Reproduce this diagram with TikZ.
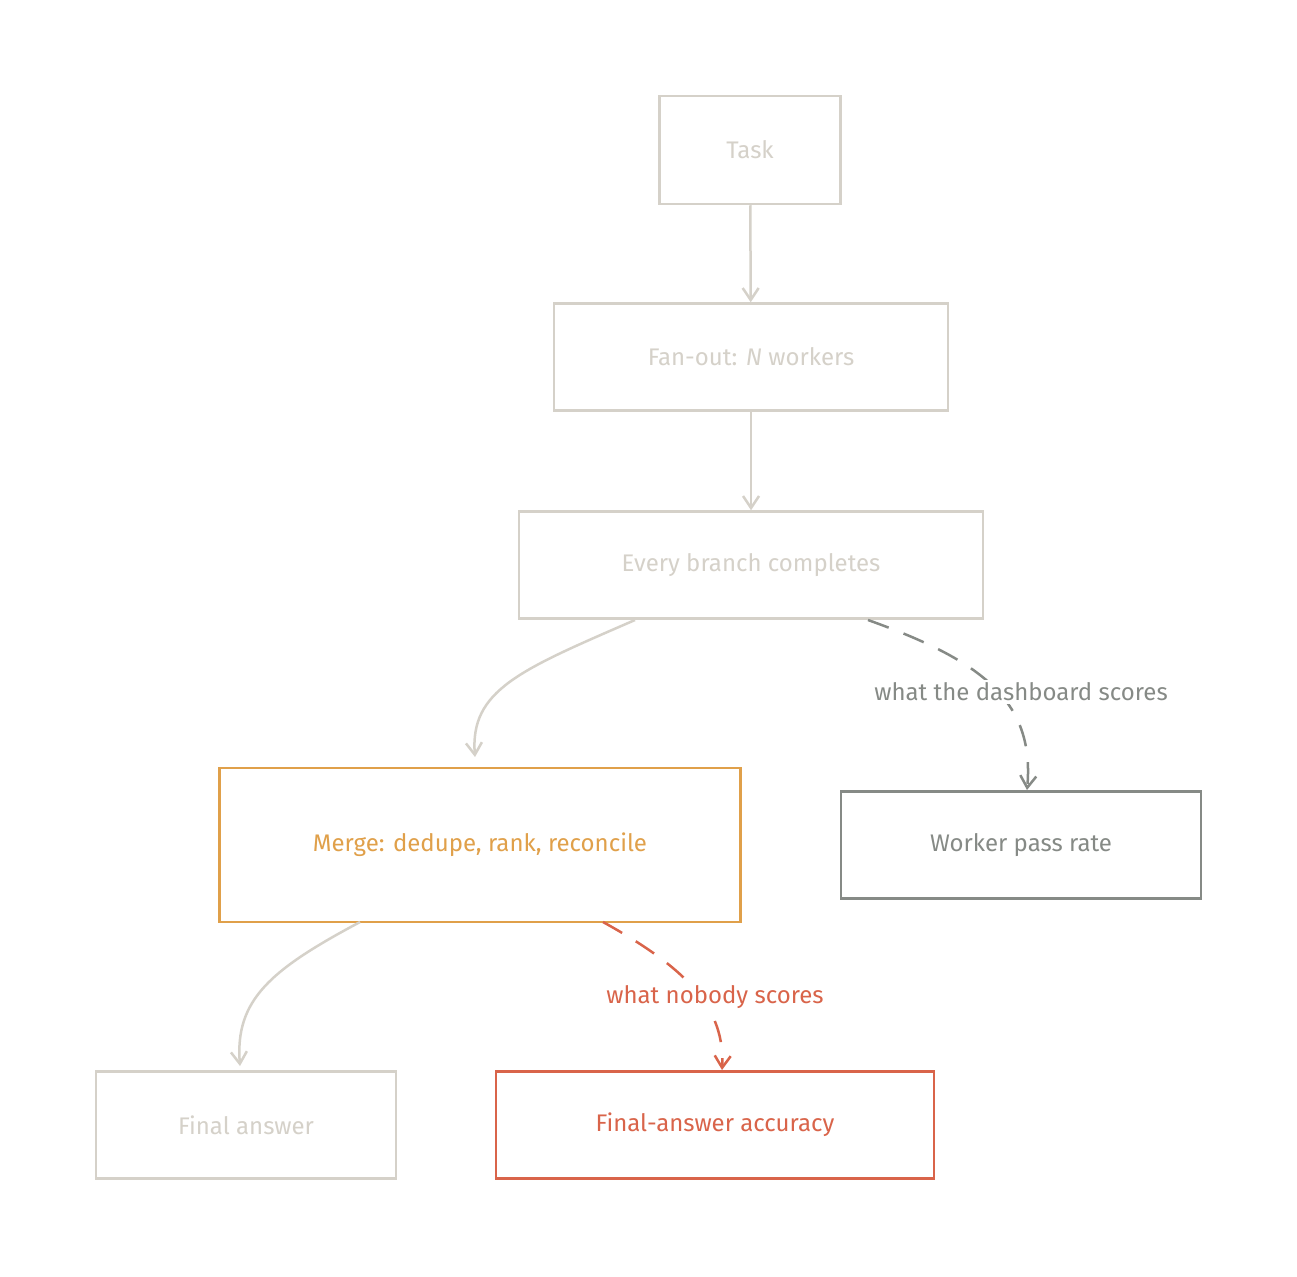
\documentclass[tikz,border=0pt]{standalone}
\usepackage{fontspec}
\setmainfont{Fira Sans}
\usetikzlibrary{arrows.meta}
\definecolor{lg}{HTML}{D5D1C9}
\definecolor{og}{HTML}{E0A04A}
\definecolor{dg}{HTML}{868A86}
\definecolor{rd}{HTML}{D9644A}
\begin{document}
\begin{tikzpicture}[x=1pt,y=-1pt,
  box/.style={draw=#1,text=#1,line width=2.5pt,rectangle,inner sep=0pt,font=\fontsize{24}{28}\selectfont},
  arr/.style={draw=#1,line width=2.5pt,-{Straight Barb[length=12pt,width=16pt]}},
  lab/.style={text=#1,fill=white,inner sep=3pt,font=\fontsize{24}{28}\selectfont}]
\useasboundingbox[fill=white] (0,0) rectangle (1297,1276);
\node[box=lg,minimum width=181pt,minimum height=108pt] (task) at (750,150) {Task};
\node[box=lg,minimum width=394pt,minimum height=107pt] (fan) at (751,357) {Fan-out: \textit{N} workers};
\node[box=lg,minimum width=464pt,minimum height=107pt] (every) at (751,565) {Every branch completes};
\node[box=og,minimum width=521pt,minimum height=154pt] (merge) at (480,845) {Merge: dedupe, rank, reconcile};
\node[box=dg,minimum width=360pt,minimum height=107pt] (wpr) at (1021,845) {Worker pass rate};
\node[box=lg,minimum width=300pt,minimum height=107pt] (final) at (246,1125) {Final answer};
\node[box=rd,minimum width=438pt,minimum height=107pt] (acc) at (715,1125) {Final-answer accuracy};
\coordinate (e1) at (635,620);
\coordinate (m1) at (475,757);
\coordinate (e2) at (868,620);
\coordinate (w1) at (1027,790);
\coordinate (mg1) at (360,922);
\coordinate (f1) at (240,1066);
\coordinate (mg2) at (603,922);
\coordinate (a1) at (722,1070);
\draw[arr=lg] (task) -- (fan);
\draw[arr=lg] (fan) -- (every);
\draw[arr=lg] (e1) .. controls (520,670) and (470,690) .. (m1);
\draw[arr=lg] (mg1) .. controls (270,970) and (235,1000) .. (f1);
\draw[arr=dg,dash pattern=on 22pt off 16pt] (e2) .. controls (980,660) and (1035,700) .. (w1);
\draw[arr=rd,dash pattern=on 22pt off 16pt] (mg2) .. controls (690,970) and (725,1010) .. (a1);
\node[lab=dg] (l1) at (1021,692) {what the dashboard scores};
\node[lab=rd] (l2) at (715,997) {what nobody scores};
\end{tikzpicture}
\end{document}
